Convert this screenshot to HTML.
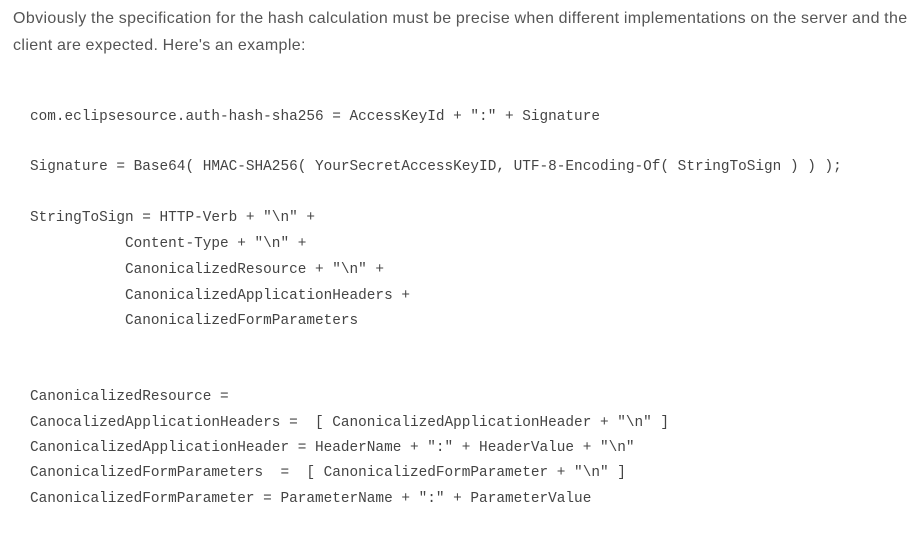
<!DOCTYPE html>
<html><head><style>
html,body{margin:0;padding:0;background:#fff;width:920px;height:536px;overflow:hidden;position:relative}
.p{position:absolute;left:13px;font-family:"Liberation Sans",sans-serif;font-size:16px;color:#555;white-space:nowrap;letter-spacing:0.38px;word-spacing:-0.5px}
.c{position:absolute;left:30px;font-family:"Liberation Mono",monospace;font-size:14.4px;color:#444;white-space:pre;line-height:18px}
</style></head><body>
<div class="p" style="top:10px">Obviously the specification for the hash calculation must be precise when different implementations on the server and the</div>
<div class="p" style="top:37px">client are expected. Here's an example:</div>
<div class="c" style="top:108px">com.eclipsesource.auth-hash-sha256 = AccessKeyId + ":" + Signature</div>
<div class="c" style="top:158px">Signature = Base64( HMAC-SHA256( YourSecretAccessKeyID, UTF-8-Encoding-Of( StringToSign ) ) );</div>
<div class="c" style="top:209px">StringToSign = HTTP-Verb + "\n" +</div>
<div class="c" style="top:235px">           Content-Type + "\n" +</div>
<div class="c" style="top:261px">           CanonicalizedResource + "\n" +</div>
<div class="c" style="top:287px">           CanonicalizedApplicationHeaders +</div>
<div class="c" style="top:312px">           CanonicalizedFormParameters</div>
<div class="c" style="top:388px">CanonicalizedResource =</div>
<div class="c" style="top:414px">CanocalizedApplicationHeaders =  [ CanonicalizedApplicationHeader + "\n" ]</div>
<div class="c" style="top:439px">CanonicalizedApplicationHeader = HeaderName + ":" + HeaderValue + "\n"</div>
<div class="c" style="top:464px">CanonicalizedFormParameters  =  [ CanonicalizedFormParameter + "\n" ]</div>
<div class="c" style="top:490px">CanonicalizedFormParameter = ParameterName + ":" + ParameterValue</div>
</body></html>
